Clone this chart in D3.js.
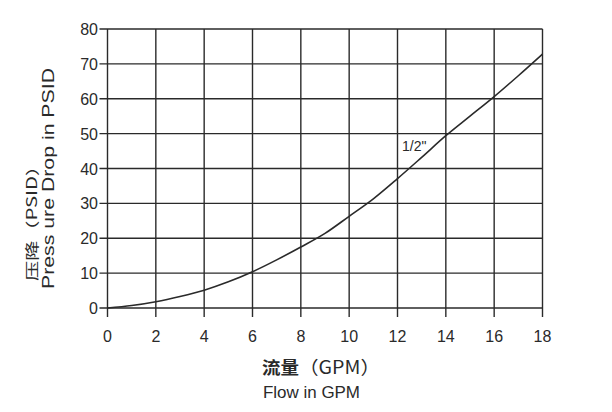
<!DOCTYPE html>
<html><head><meta charset="utf-8">
<script src="https://cdn.jsdelivr.net/npm/d3@7"></script>
<style>body{margin:0;background:#fff}svg{display:block}</style>
</head><body>
<script>
const flow = [0,1,2,3,4,5,6,7,8,9,10,11,12,13,14,15,16,17,18];
const pressure = [0,0.7,1.8,3.3,5.1,7.5,10.4,13.8,17.5,21.4,26.3,31.3,37.1,43.2,49.4,55.0,60.6,66.6,72.8];
const xTicks = [0,2,4,6,8,10,12,14,16,18];
const yTicks = [0,10,20,30,40,50,60,70,80];
const seriesLabel = '1/2"';
const xTitle = ['流量','（GPM）','Flow in GPM'];
const yTitle = ['压降（PSID）','Press ure Drop in PSID'];

const W=612,H=412;
const svg=d3.select('body').append('svg').attr('width',W).attr('height',H);
const x=d3.scaleLinear().domain([0,18]).range([107.5,542.5]);
const y=d3.scaleLinear().domain([0,80]).range([308,29]);
const col='#2a2a2a';
const font='"Liberation Sans", Arial, "Noto Sans CJK SC", sans-serif';
const cjk='"Noto Sans CJK SC", "Liberation Sans", sans-serif';

// grid
svg.append('g').selectAll('line').data(xTicks).join('line')
  .attr('x1',d=>x(d)).attr('x2',d=>x(d)).attr('y1',y(80)).attr('y2',y(0)+9)
  .attr('stroke',col).attr('stroke-width',1.4);
svg.append('g').selectAll('line').data(yTicks).join('line')
  .attr('x1',x(0)-8).attr('x2',x(18)).attr('y1',d=>y(d)).attr('y2',d=>y(d))
  .attr('stroke',col).attr('stroke-width',1.4);

// tick labels
svg.append('g').selectAll('text').data(xTicks).join('text')
  .attr('x',d=>x(d)).attr('y',342).attr('text-anchor','middle')
  .attr('font-family',font).attr('font-size',16).attr('fill',col).text(d=>d);
svg.append('g').selectAll('text').data(yTicks).join('text')
  .attr('x',98).attr('y',d=>y(d)+6).attr('text-anchor','end')
  .attr('font-family',font).attr('font-size',16).attr('fill',col).text(d=>d);

// curve
const pts=flow.map((f,i)=>[f,pressure[i]]);
svg.append('path').datum(pts)
  .attr('d',d3.line().x(d=>x(d[0])).y(d=>y(d[1])).curve(d3.curveMonotoneX))
  .attr('fill','none').attr('stroke',col).attr('stroke-width',1.6);

svg.append('text').attr('x',402).attr('y',151).attr('font-family',font)
  .attr('font-size',14).attr('fill',col).text(seriesLabel);

// x title
const xt=svg.append('text').attr('x',262).attr('y',374)
  .attr('font-family',cjk).attr('font-size',17)
  .attr('textLength',118).attr('lengthAdjust','spacingAndGlyphs')
  .attr('fill',col);
xt.append('tspan').attr('font-weight',700).text(xTitle[0]);
xt.append('tspan').attr('font-size',18).text(xTitle[1]);
svg.append('text').attr('x',263).attr('y',398)
  .attr('font-family',font).attr('font-size',16)
  .attr('textLength',97).attr('lengthAdjust','spacingAndGlyphs')
  .attr('fill',col).text(xTitle[2]);

// y title
svg.append('text').attr('transform','translate(37,281) rotate(-90)')
  .attr('font-family',cjk).attr('font-size',14)
  .attr('textLength',125).attr('lengthAdjust','spacingAndGlyphs')
  .attr('fill',col).text(yTitle[0]);
svg.append('text').attr('transform','translate(53.5,289) rotate(-90)')
  .attr('font-family',font).attr('font-size',16)
  .attr('textLength',221).attr('lengthAdjust','spacingAndGlyphs')
  .attr('fill',col).text(yTitle[1]);
</script>
</body></html>
